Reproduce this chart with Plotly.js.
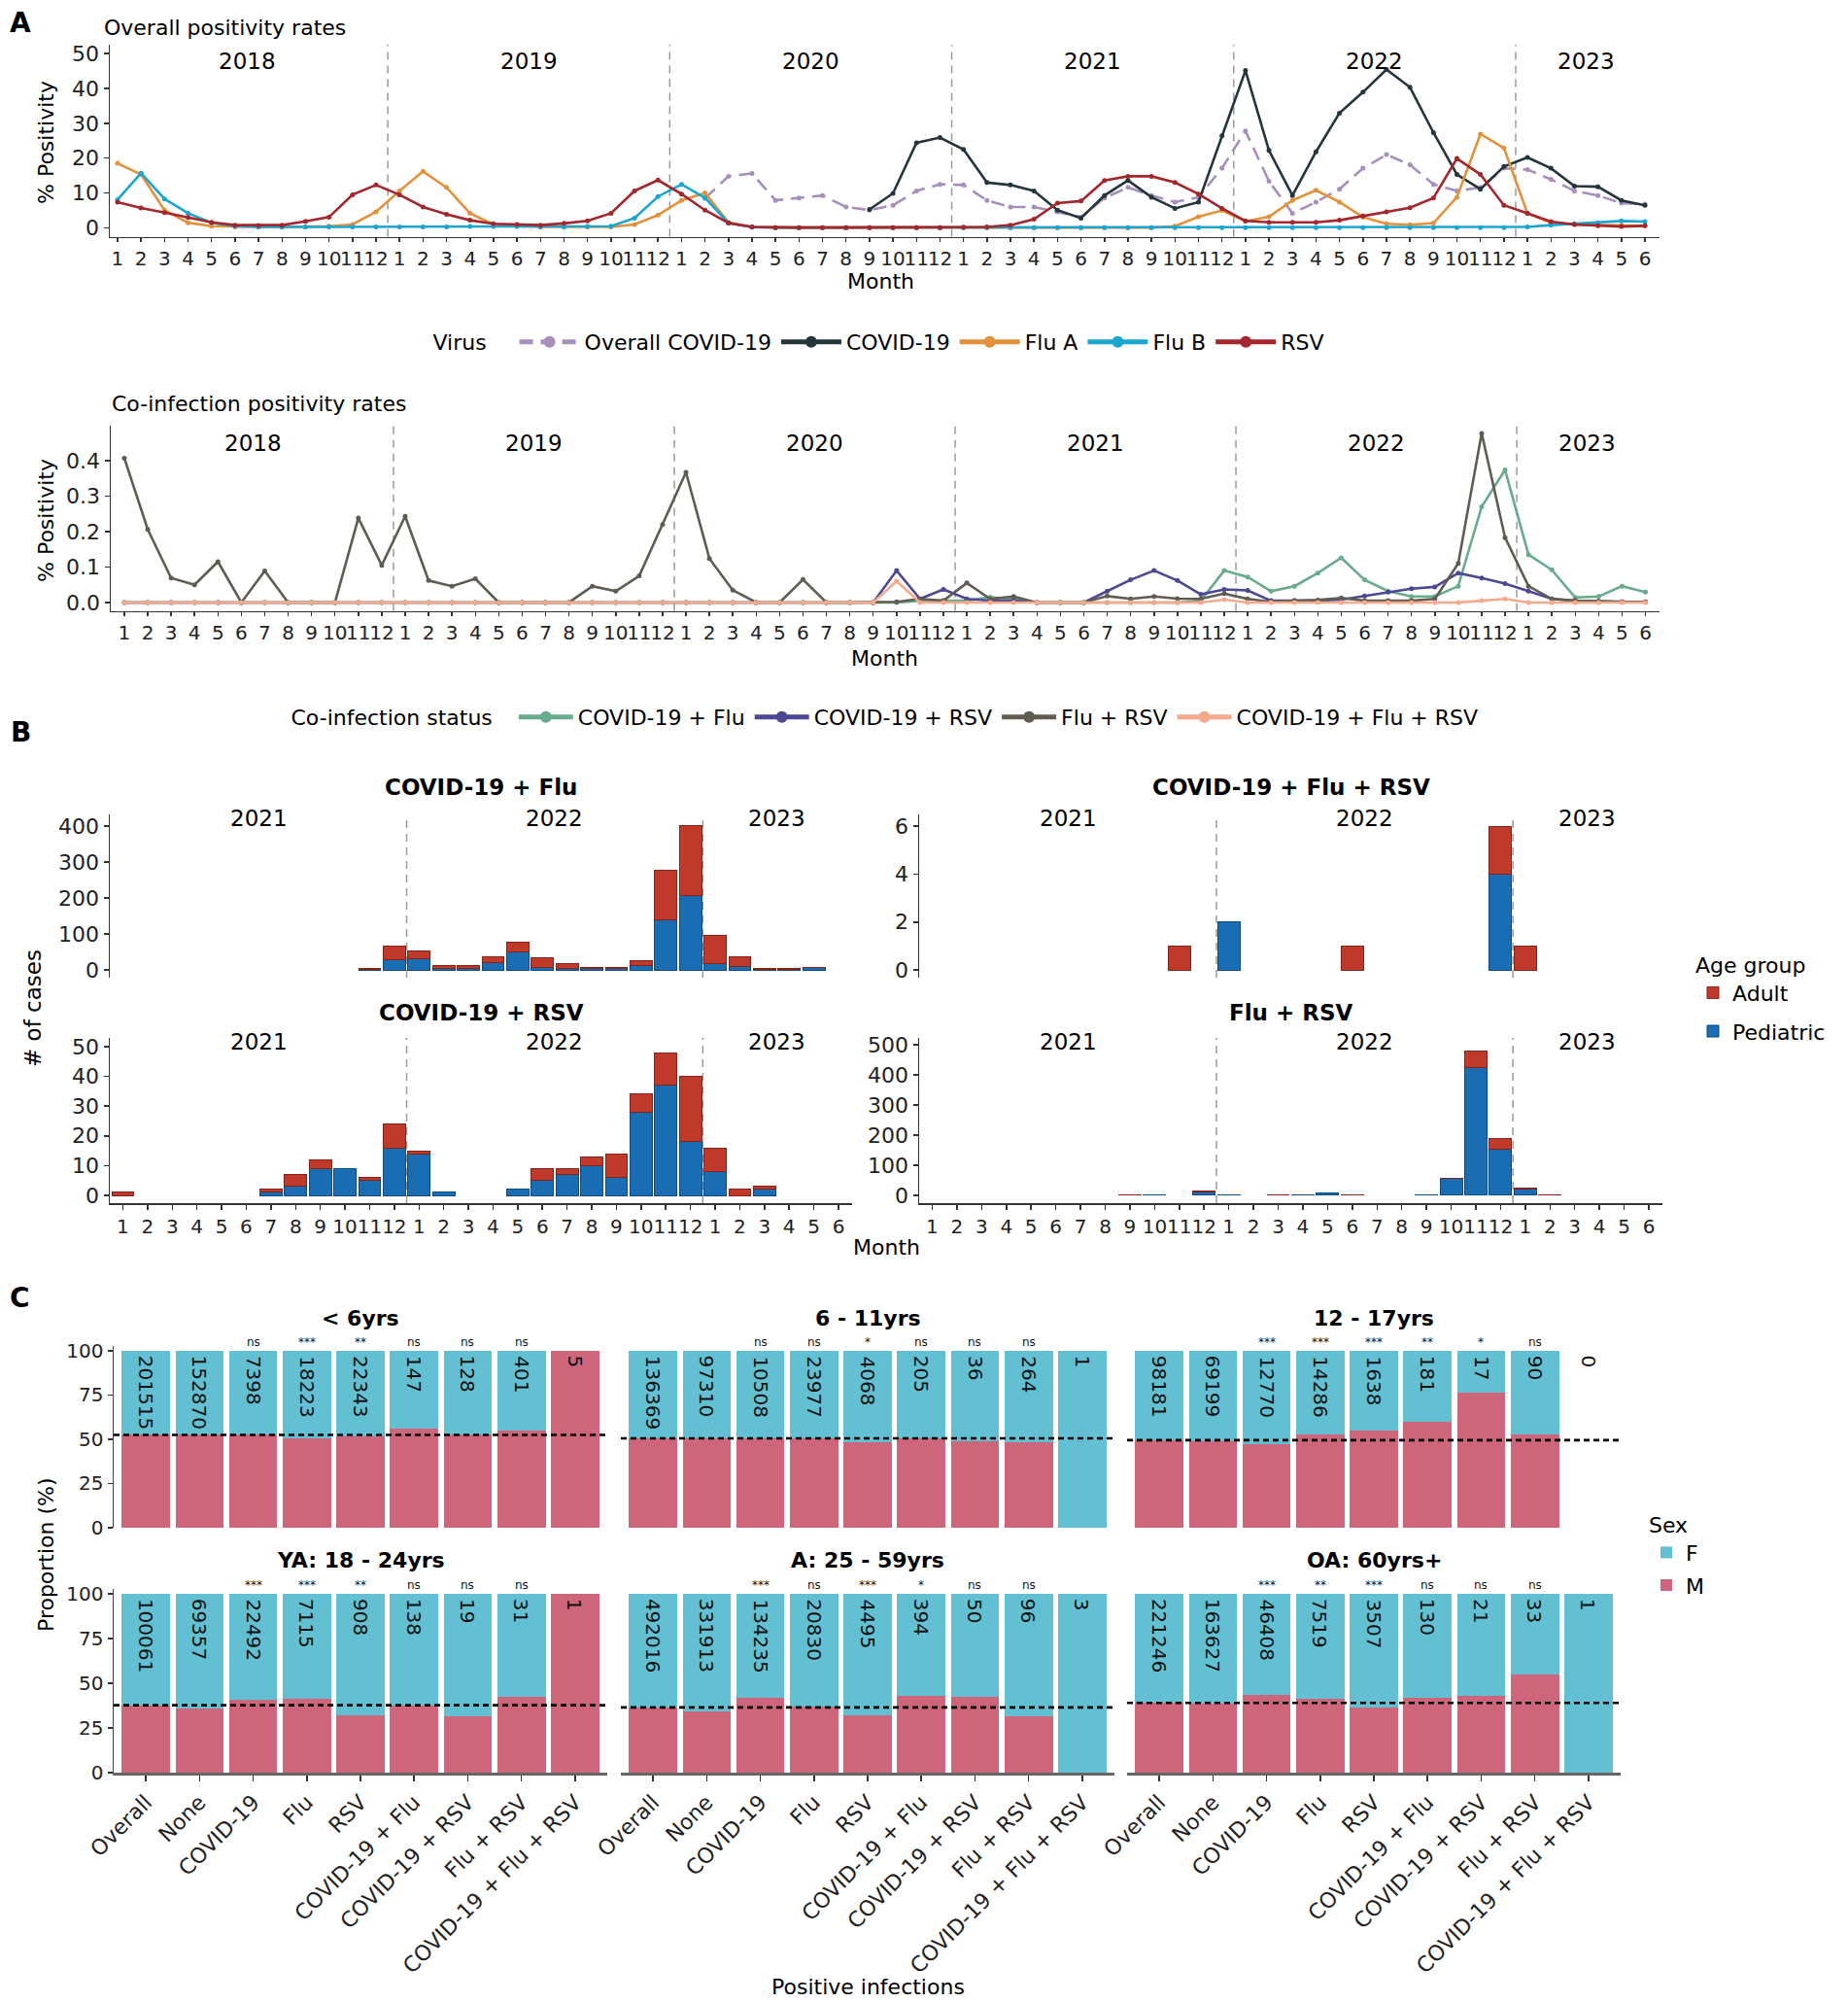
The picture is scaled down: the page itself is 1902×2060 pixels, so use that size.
<!DOCTYPE html>
<html><head><meta charset="utf-8">
<script src="https://cdn.plot.ly/plotly-3.0.1.min.js"></script>
<style>body{margin:0;padding:0;background:#fff}#chart{width:1902px;height:2060px}</style>
</head><body><div id="chart"></div>
<script>
// ================= DATA =================
// Panel A: monthly positivity (%), Jan 2018 .. Jun 2023
const yearsA = [2018, 2019, 2020, 2021, 2022, 2023];
const monthsPerYearA = [12, 12, 12, 12, 12, 6];

const overallCovid = [
  null,null,null,null,null,null,null,null,null,null,null,null,
  null,null,null,null,null,null,null,null,null,null,null,null,
  null,8.5,14.8,15.6,7.9,8.6,9.3,6.0,5.1,6.5,10.6,12.5,
  12.3,7.9,6.0,6.0,4.6,3.1,8.6,11.6,9.3,7.4,8.8,17.1,
  27.8,13.4,4.2,7.4,11.1,17.1,21.0,18.1,12.5,10.6,11.6,17.1,
  16.7,13.9,10.6,9.3,7.1,6.8];
const covid19 = [
  null,null,null,null,null,null,null,null,null,null,null,null,
  null,null,null,null,null,null,null,null,null,null,null,null,
  null,null,null,null,null,null,null,null,5.3,9.9,24.4,25.9,
  22.5,13.0,12.3,10.6,5.1,2.8,9.3,13.6,8.8,5.6,7.4,26.4,
  45.1,22.2,9.3,21.8,32.9,38.9,45.4,40.3,27.3,15.3,11.1,17.6,
  20.2,17.1,12.0,11.8,7.9,6.5];
const fluA = [
  18.5,15.3,5.1,1.5,0.5,0.3,0.3,0.3,0.3,0.5,1.0,4.6,
  10.6,16.2,11.6,4.2,1.0,0.5,0.3,0.3,0.3,0.3,1.0,3.7,
  7.9,10.0,1.6,0.3,0.1,0.1,0.1,0.1,0.1,0.1,0.1,0.1,
  0.1,0.1,0.1,0.1,0.1,0.1,0.1,0.1,0.1,0.5,3.2,5.0,
  1.9,3.2,7.9,10.8,7.4,3.1,1.2,0.9,1.4,8.8,26.9,22.9,
  4.2,1.5,1.0,0.8,0.7,0.6];
const fluB = [
  8.1,15.7,8.3,4.2,1.5,0.5,0.3,0.2,0.3,0.3,0.3,0.3,
  0.3,0.3,0.3,0.4,0.4,0.4,0.3,0.3,0.4,0.5,2.8,9.0,
  12.5,8.6,1.4,0.2,0.1,0.1,0.1,0.1,0.1,0.1,0.1,0.1,
  0.1,0.1,0.1,0.1,0.1,0.1,0.1,0.1,0.1,0.1,0.1,0.1,
  0.1,0.1,0.1,0.1,0.1,0.1,0.1,0.1,0.1,0.1,0.1,0.1,
  0.3,0.8,1.2,1.5,2.0,1.8];
const rsv = [
  7.4,5.7,4.4,3.0,1.6,0.8,0.7,0.8,1.9,3.1,9.5,12.3,
  9.5,6.0,3.9,2.2,1.2,1.0,0.8,1.3,2.0,4.2,10.6,13.7,
  9.7,5.1,1.4,0.3,0.1,0.1,0.1,0.1,0.1,0.1,0.1,0.1,
  0.2,0.3,0.8,2.5,7.1,7.7,13.6,14.8,14.8,13.0,9.7,5.6,
  2.0,1.6,1.6,1.6,2.2,3.4,4.6,5.8,8.6,19.9,15.3,6.5,
  4.2,1.8,1.0,0.6,0.4,0.6];

// Co-infection positivity (%)
const coCovidFlu = [
  0,0,0,0,0,0,0,0,0,0,0,0,
  0,0,0,0,0,0,0,0,0,0,0,0,
  0,0,0,0,0,0,0,0,0,0,0.005,0.005,
  0.005,0.015,0.01,0,0,0,0,0,0,0,0.005,0.09,
  0.072,0.032,0.046,0.083,0.126,0.064,0.032,0.017,0.017,0.046,0.27,0.374,
  0.135,0.092,0.014,0.017,0.046,0.029];
const coCovidRsv = [
  0,0,0,0,0,0,0,0,0,0,0,0,
  0,0,0,0,0,0,0,0,0,0,0,0,
  0,0,0,0,0,0,0,0,0,0.09,0.01,0.037,
  0.01,0.005,0.005,0,0,0,0.032,0.064,0.09,0.062,0.023,0.037,
  0.034,0.005,0.005,0.005,0.008,0.018,0.029,0.039,0.044,0.083,0.069,0.053,
  0.032,0.01,0.005,0.003,0.002,0.002];
const coFluRsv = [
  0.407,0.206,0.069,0.05,0.115,0,0.089,0,0,0,0.238,0.105,
  0.243,0.062,0.046,0.067,0,0,0,0,0.046,0.032,0.075,0.22,
  0.367,0.124,0.035,0,0,0.065,0,0,0,0.002,0.01,0.005,
  0.055,0.01,0.017,0,0,0,0.018,0.01,0.017,0.011,0.01,0.025,
  0.01,0.002,0.005,0.007,0.013,0.005,0.005,0.005,0.01,0.11,0.477,0.183,
  0.046,0.01,0.005,0.003,0.002,0.002];
const coCovidFluRsv = [
  0,0,0,0,0,0,0,0,0,0,0,0,
  0,0,0,0,0,0,0,0,0,0,0,0,
  0,0,0,0,0,0,0,0,0,0.06,0,0,
  0,0,0,0,0,0,0,0,0,0,0,0.008,
  0,0,0,0,0,0,0,0,0,0,0.005,0.01,
  0,0,0,0,0,0];

// Panel B: cases per month, Jan 2021 .. Jun 2023
const yearsB = [2021, 2022, 2023];
const monthsPerYearB = [12, 12, 6];
const covFluPed   = [0,0,0,0,0,0,0,0,0,0,1,28, 30,5,3,20,50,8,5,3,4,12,140,206, 18,9,1,1,7,0];
const covFluAdult = [0,0,0,0,0,0,0,0,0,0,4,38, 23,7,10,16,28,27,12,5,4,14,138,196, 77,27,4,2,1,0];
const cfrPed      = [0,0,0,0,0,0,0,0,0,0,0,0, 2,0,0,0,0,0,0,0,0,0,0,4, 0,0,0,0,0,0];
const cfrAdult    = [0,0,0,0,0,0,0,0,0,0,1,0, 0,0,0,0,0,1,0,0,0,0,0,2, 1,0,0,0,0,0];
const covRsvPed   = [0,0,0,0,0,0,1,3,9,9,5,16, 14,1,0,0,2,5,7,10,6,28,37,18, 8,0,2,0,0,0];
const covRsvAdult = [1,0,0,0,0,0,1,4,3,0,1,8, 1,0,0,0,0,4,2,3,8,6,11,22, 8,2,1,0,0,0];
const fluRsvPed   = [0,0,0,0,0,0,0,0,0,1,0,10, 1,0,0,1,8,0,0,0,1,55,425,152, 21,2,0,0,0,0];
const fluRsvAdult = [0,0,0,0,0,0,0,0,1,0,0,5, 0,0,1,0,0,1,0,0,0,2,55,38, 4,1,0,0,0,0];

// Panel C: % male by positive infection, per age group; counts and significance
const infectionCats = ['Overall','None','COVID-19','Flu','RSV','COVID-19 + Flu','COVID-19 + RSV','Flu + RSV','COVID-19 + Flu + RSV'];
const ageGroups = ['< 6yrs','6 - 11yrs','12 - 17yrs','YA: 18 - 24yrs','A: 25 - 59yrs','OA: 60yrs+'];
const malePctLt6  = [52.5,52.5,52.5,50.5,51.5,56,52.5,55,100];
const malePct6to11 = [50.5,50.5,50.5,50.5,48.5,50.5,49,48.5,0];
const malePct12to17 = [49.5,49,47.5,52.5,55,60,76.5,53,null];
const malePctYA = [37.7,36,40.5,41.5,32,37.5,31.5,42.3,100];
const malePctA  = [36.5,34.5,41.8,37,32,42.8,42.3,31.5,0];
const malePctOA = [39,38.5,43.6,41.4,36.4,41.8,43.2,55,0];
const countLt6  = [201515,152870,7398,18223,22343,147,128,401,5];
const count6to11 = [136369,97310,10508,23977,4068,205,36,264,1];
const count12to17 = [98181,69199,12770,14286,1638,181,17,90,0];
const countYA = [100061,69357,22492,7115,908,138,19,31,1];
const countA  = [492016,331913,134235,20830,4495,394,50,96,3];
const countOA = [221246,163627,46408,7519,3507,130,21,33,1];
const sigLt6  = ['','','ns','***','**','ns','ns','ns',''];
const sig6to11 = ['','','ns','ns','*','ns','ns','ns',''];
const sig12to17 = ['','','***','***','***','**','*','ns',''];
const sigYA = ['','','***','***','**','ns','ns','ns',''];
const sigA  = ['','','***','ns','***','*','ns','ns',''];
const sigOA = ['','','***','**','***','ns','ns','ns',''];

// ================= HELPERS =================
const W = 1902, H = 2060;
const FONT = 'DejaVu Sans, Verdana, sans-serif';
const px = v => v / W;
const py = v => 1 - v / H;
const xd = (a, b) => [px(a), px(b)];
const yd = (top, bottom) => [py(bottom), py(top)];
const annotations = [];
const shapes = [];
const traces = [];
function label(text, x, y, size, o) {
  annotations.push(Object.assign({
    text: text, x: px(x), y: py(y), xref: 'paper', yref: 'paper', showarrow: false,
    font: {family: FONT, size: size, color: '#000'}, xanchor: 'center', yanchor: 'middle'
  }, o || {}));
}
function monthAxis(years, perYear) {
  const idx = [], txt = [], seps = [], centers = [];
  years.forEach((yr, i) => {
    const start = idx.length + 1;
    for (let m = 1; m <= perYear[i]; m++) { idx.push(idx.length + 1); txt.push(String(m)); }
    centers.push((start + idx.length) / 2);
    if (i < years.length - 1) seps.push(idx.length + 0.5);
  });
  return {idx, txt, seps, centers};
}
const MA = monthAxis(yearsA, monthsPerYearA);
const MB = monthAxis(yearsB, monthsPerYearB);
const tickFont = s => ({family: FONT, size: s, color: '#222'});
function lineAxis(extra) {
  return Object.assign({showline: true, linecolor: '#333', linewidth: 1.5, ticks: 'outside', ticklen: 5,
    tickwidth: 1.5, tickcolor: '#333', showgrid: false, zeroline: false, fixedrange: true,
    tickfont: tickFont(20)}, extra);
}
function vsep(xref, yref, x) {
  shapes.push({type: 'line', xref: xref, yref: yref + ' domain', x0: x, x1: x, y0: 0, y1: 1,
    line: {color: '#9a9a9a', width: 1.5, dash: '8px,6px'}, layer: 'below'});
}

// ================= PANEL A =================
label('<b>A</b>', 21, 24, 28);
label('Overall positivity rates', 105, 29, 22, {xanchor: 'left'});
const virusStyles = [
  ['Overall COVID-19', overallCovid, '#A690BA', '14px,8px'],
  ['COVID-19', covid19, '#24353B', 'solid'],
  ['Flu A', fluA, '#E3913B', 'solid'],
  ['Flu B', fluB, '#1BA6D2', 'solid'],
  ['RSV', rsv, '#A3272C', 'solid']
];
virusStyles.forEach(s => traces.push({
  type: 'scatter', mode: 'lines+markers', name: s[0], x: MA.idx, y: s[1],
  xaxis: 'x', yaxis: 'y', legend: 'legend', connectgaps: false,
  line: {color: s[2], width: 2.6, dash: s[3]}, marker: {color: s[2], size: 5},
  hoverinfo: 'skip'
}));
MA.seps.forEach(x => vsep('x', 'y', x));
yearsA.forEach((yr, i) => annotations.push({text: String(yr), x: MA.centers[i], y: py(63), xref: 'x', yref: 'paper',
  showarrow: false, font: {family: FONT, size: 23, color: '#000'}, xanchor: 'center', yanchor: 'middle'}));
label('% Positivity', 47, 147, 22, {textangle: -90});
label('Month', 906, 290, 22);

label('Co-infection positivity rates', 113, 415, 22, {xanchor: 'left'});
const coStyles = [
  ['COVID-19 + Flu', coCovidFlu, '#69AB8D'],
  ['COVID-19 + RSV', coCovidRsv, '#4D4894'],
  ['Flu + RSV', coFluRsv, '#615C52'],
  ['COVID-19 + Flu + RSV', coCovidFluRsv, '#F5AA8D']
];
coStyles.forEach(s => traces.push({
  type: 'scatter', mode: 'lines+markers', name: s[0], x: MA.idx, y: s[1],
  xaxis: 'x2', yaxis: 'y2', legend: 'legend2',
  line: {color: s[2], width: 2.6}, marker: {color: s[2], size: 5}, hoverinfo: 'skip'
}));
MA.seps.forEach(x => vsep('x2', 'y2', x));
yearsA.forEach((yr, i) => annotations.push({text: String(yr), x: MA.centers[i], y: py(456), xref: 'x2', yref: 'paper',
  showarrow: false, font: {family: FONT, size: 23, color: '#000'}, xanchor: 'center', yanchor: 'middle'}));
label('% Positivity', 47, 536, 22, {textangle: -90});
label('Month', 910, 677, 22);

// ================= PANEL B =================
label('<b>B</b>', 21, 753, 28);
const PED = '#1A6DB2', ADULT = '#C03A2B';
const bFacets = [
  {title: 'COVID-19 + Flu', ped: covFluPed, adult: covFluAdult, n: 3, xs: [113, 877], ys: [838, 1006], range: [-21.6, 432], dtick: 100, titleY: 810, yearY: 842, bottom: false},
  {title: 'COVID-19 + Flu + RSV', ped: cfrPed, adult: cfrAdult, n: 4, xs: [946, 1711], ys: [838, 1006], range: [-0.32, 6.49], dtick: 2, titleY: 810, yearY: 842, bottom: false},
  {title: 'COVID-19 + RSV', ped: covRsvPed, adult: covRsvAdult, n: 5, xs: [113, 877], ys: [1068, 1238], range: [-2.61, 52.9], dtick: 10, titleY: 1042, yearY: 1072, bottom: true},
  {title: 'Flu + RSV', ped: fluRsvPed, adult: fluRsvAdult, n: 6, xs: [946, 1711], ys: [1068, 1238], range: [-25.8, 522], dtick: 100, titleY: 1042, yearY: 1072, bottom: true}
];
const layoutAxes = {};
bFacets.forEach((f, k) => {
  const xa = 'x' + f.n, ya = 'y' + f.n;
  traces.push({type: 'bar', name: 'Pediatric', x: MB.idx, y: f.ped.map(v => v || null), xaxis: xa, yaxis: ya,
    legend: 'legend3', legendgroup: 'ped', legendrank: 2, showlegend: k === 0,
    marker: {color: PED, line: {color: '#0B4C86', width: 1}}, hoverinfo: 'skip'});
  traces.push({type: 'bar', name: 'Adult', x: MB.idx, y: f.adult.map(v => v || null), xaxis: xa, yaxis: ya,
    legend: 'legend3', legendgroup: 'adult', legendrank: 1, showlegend: k === 0,
    marker: {color: ADULT, line: {color: '#84231A', width: 1}}, hoverinfo: 'skip'});
  layoutAxes['xaxis' + f.n] = lineAxis({domain: xd(f.xs[0], f.xs[1]), anchor: ya, range: [0.47, 30.55],
    tickmode: 'array', tickvals: MB.idx, ticktext: MB.txt, tickangle: 0,
    showline: f.bottom, ticks: f.bottom ? 'outside' : '', showticklabels: f.bottom, linewidth: 2, tickfont: tickFont(20)});
  layoutAxes['yaxis' + f.n] = lineAxis({domain: yd(f.ys[0], f.ys[1]), anchor: xa, range: f.range, dtick: f.dtick,
    tick0: 0, tickfont: tickFont(22)});
  MB.seps.forEach(x => vsep(xa, ya, x));
  label('<b>' + f.title + '</b>', (f.xs[0] + f.xs[1]) / 2, f.titleY, 23);
  yearsB.forEach((yr, i) => annotations.push({text: String(yr), x: MB.centers[i], y: py(f.yearY), xref: xa, yref: 'paper',
    showarrow: false, font: {family: FONT, size: 23, color: '#000'}, xanchor: 'center', yanchor: 'middle'}));
});
label('# of cases', 34, 1038, 23, {textangle: -90});
label('Month', 912, 1283, 22);

// ================= PANEL C =================
label('<b>C</b>', 20, 1335, 28);
const MALE = '#CD657B', FEMALE = '#62C0D2';
const cCols = [[117, 625], [639, 1147], [1160, 1668]];
const cRows = [[1384.5, 1572], [1634.5, 1824]];
const cData = [
  [malePctLt6, countLt6, sigLt6], [malePct6to11, count6to11, sig6to11], [malePct12to17, count12to17, sig12to17],
  [malePctYA, countYA, sigYA], [malePctA, countA, sigA], [malePctOA, countOA, sigOA]
];
cData.forEach((d, k) => {
  const n = 7 + k, xa = 'x' + n, ya = 'y' + n;
  const col = cCols[k % 3], row = cRows[Math.floor(k / 3)];
  const bottom = k >= 3, left = k % 3 === 0;
  traces.push({type: 'bar', name: 'M', x: infectionCats, y: d[0], xaxis: xa, yaxis: ya,
    legend: 'legend4', legendgroup: 'M', legendrank: 2, showlegend: k === 0, marker: {color: MALE, line: {width: 0}}, hoverinfo: 'skip'});
  traces.push({type: 'bar', name: 'F', x: infectionCats, y: d[0].map(v => v === null ? null : 100 - v), xaxis: xa, yaxis: ya,
    legend: 'legend4', legendgroup: 'F', legendrank: 1, showlegend: k === 0, marker: {color: FEMALE, line: {width: 0}}, hoverinfo: 'skip'});
  layoutAxes['xaxis' + n] = lineAxis({domain: xd(col[0], col[1]), anchor: ya, type: 'category',
    categoryorder: 'array', categoryarray: infectionCats, range: [-0.6, 8.6],
    showline: bottom, linecolor: '#666', linewidth: 3, ticks: bottom ? 'outside' : '', ticklen: 6,
    showticklabels: bottom, tickangle: -45, tickfont: tickFont(22)});
  layoutAxes['yaxis' + n] = lineAxis({domain: yd(row[0], row[1]), anchor: xa, range: [0, 103],
    tickvals: [0, 25, 50, 75, 100], showline: left, ticks: left ? 'outside' : '', showticklabels: left,
    linecolor: '#444', tickfont: tickFont(20)});
  shapes.push({type: 'line', xref: xa + ' domain', yref: ya, x0: 0, x1: 1, y0: d[0][0], y1: d[0][0],
    line: {color: '#000', width: 2.6, dash: '6px,4px'}});
  infectionCats.forEach((c, i) => {
    annotations.push({text: String(d[1][i]), x: c, y: 100, xref: xa, yref: ya, textangle: 90,
      xanchor: 'center', yanchor: 'top', yshift: -3, showarrow: false,
      font: {family: FONT, size: 20, color: '#111'}});
    if (d[2][i]) annotations.push({text: d[2][i], x: c, y: 100, xref: xa, yref: ya,
      xanchor: 'center', yanchor: 'bottom', yshift: 0, showarrow: false,
      font: {family: FONT, size: 12, color: '#111'}});
  });
  label('<b>' + ageGroups[k] + '</b>', (col[0] + col[1]) / 2, bottom ? 1605 : 1356, 22);
});
label('Proportion (%)', 47, 1600, 22, {textangle: -90});
label('Positive infections', 893, 2044, 22);

// ================= LAYOUT =================
const legendFont = {family: FONT, size: 22, color: '#000'};
const layout = Object.assign({
  width: W, height: H, autosize: false,
  margin: {l: 0, r: 0, t: 0, b: 0},
  paper_bgcolor: '#fff', plot_bgcolor: 'rgba(0,0,0,0)',
  font: {family: FONT, size: 20, color: '#000'},
  barmode: 'stack', bargap: 0.1, hovermode: false,
  xaxis: lineAxis({domain: xd(113, 1708), anchor: 'y', range: [0.67, 66.62], tickmode: 'array',
    tickvals: MA.idx, ticktext: MA.txt, tickangle: 0, ticklen: 4}),
  yaxis: lineAxis({domain: yd(46, 243.5), anchor: 'x', range: [-2.5, 52.5], dtick: 10, tickfont: tickFont(22)}),
  xaxis2: lineAxis({domain: xd(114, 1708), anchor: 'y2', range: [0.42, 66.6], tickmode: 'array',
    tickvals: MA.idx, ticktext: MA.txt, tickangle: 0, ticklen: 4}),
  yaxis2: lineAxis({domain: yd(437.5, 628.7), anchor: 'x2', range: [-0.024, 0.5], tickmode: 'array',
    tickvals: [0, 0.1, 0.2, 0.3, 0.4], tickformat: '.1f', tickfont: tickFont(22)}),
  legend: {orientation: 'h', x: px(906), xanchor: 'center', y: py(352), yanchor: 'middle', font: legendFont,
    title: {text: 'Virus   ', font: legendFont, side: 'left'}, itemsizing: 'constant', itemwidth: 62, bgcolor: 'rgba(0,0,0,0)'},
  legend2: {orientation: 'h', x: px(912), xanchor: 'center', y: py(738), yanchor: 'middle', font: legendFont,
    title: {text: 'Co-infection status  ', font: legendFont, side: 'left'}, itemsizing: 'constant', itemwidth: 56, bgcolor: 'rgba(0,0,0,0)'},
  legend3: {orientation: 'v', x: px(1743), xanchor: 'left', y: py(972), yanchor: 'top', font: legendFont,
    title: {text: 'Age group', font: legendFont}, traceorder: 'grouped', tracegroupgap: 8, bgcolor: 'rgba(0,0,0,0)'},
  legend4: {orientation: 'v', x: px(1695), xanchor: 'left', y: py(1548), yanchor: 'top', font: legendFont,
    title: {text: 'Sex', font: legendFont}, traceorder: 'grouped', tracegroupgap: 2, bgcolor: 'rgba(0,0,0,0)'},
  annotations: annotations, shapes: shapes
}, layoutAxes);

Plotly.newPlot('chart', traces, layout, {staticPlot: true, displayModeBar: false});
</script></body></html>
